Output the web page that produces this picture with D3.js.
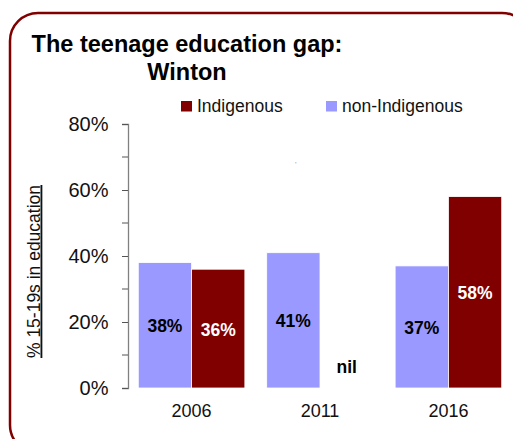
<!DOCTYPE html>
<html>
<head>
<meta charset="utf-8">
<script src="https://cdn.jsdelivr.net/npm/d3@7"></script>
<style>
  html, body { margin: 0; padding: 0; background: #fff; }
  svg { display: block; font-family: "Liberation Sans", Arial, sans-serif; }
</style>
</head>
<body>
<svg id="chart" width="513" height="439"></svg>
<script>
// Census years and share of 15-19 year olds in education
const years = ["2006", "2011", "2016"];
const seriesNames = ["non-Indigenous", "Indigenous"];
const nonIndigenous = [0.38, 0.41, 0.37];
const indigenous = [0.36, null, 0.58];
const yTicks = [0, 0.2, 0.4, 0.6, 0.8];
const yMinorTicks = [0.1, 0.3, 0.5, 0.7];
const nilLabel = "nil";

const colors = { "non-Indigenous": "#9999ff", "Indigenous": "#800000" };
const labelColors = { "non-Indigenous": "#000", "Indigenous": "#fff" };

const svg = d3.select("#chart");

// Rounded frame
svg.append("rect")
  .attr("x", 10).attr("y", 13)
  .attr("width", 520).attr("height", 440)
  .attr("rx", 28).attr("ry", 28)
  .attr("fill", "none")
  .attr("stroke", "#800000")
  .attr("stroke-width", 2.5);

// Title
const title = svg.append("text")
  .attr("text-anchor", "middle")
  .attr("font-weight", "bold")
  .attr("font-size", 23.5)
  .attr("fill", "#000");
title.append("tspan").attr("x", 187).attr("y", 51.5).text("The teenage education gap:");
title.append("tspan").attr("x", 187).attr("y", 80).text("Winton");

// Scales
const y = d3.scaleLinear().domain([0, 0.8]).range([388, 124]);
const x0 = d3.scaleBand().domain(years).range([128, 512]).paddingInner(0.17).paddingOuter(0.08);
const x1 = d3.scaleBand().domain(seriesNames).range([0, x0.bandwidth()]);

// Y axis
const yAxis = d3.axisLeft(y)
  .tickValues(yTicks)
  .tickFormat(d3.format(".0%"))
  .tickSize(6)
  .tickPadding(13.5);
const gy = svg.append("g").attr("transform", "translate(128,0)").call(yAxis);
gy.select(".domain").attr("stroke", "#808080").attr("stroke-width", 1.3);
gy.selectAll(".tick line").attr("stroke", "#555");
gy.selectAll(".tick text")
  .attr("font-size", 20)
  .attr("font-family", "Liberation Sans, Arial, sans-serif")
  .attr("fill", "#111");
gy.selectAll(".minor")
  .data(yMinorTicks)
  .enter().append("line")
  .attr("class", "minor")
  .attr("x1", -6).attr("x2", 0)
  .attr("y1", d => y(d)).attr("y2", d => y(d))
  .attr("stroke", "#555");

// Y axis title
svg.append("text")
  .attr("transform", `translate(39.5,${271.5}) rotate(-90)`)
  .attr("text-anchor", "middle")
  .attr("font-size", 18.5)
  .attr("textLength", 173)
  .attr("lengthAdjust", "spacingAndGlyphs")
  .attr("text-decoration", "underline")
  .attr("fill", "#111")
  .text("% 15-19s in education");

// X axis labels
const xAxis = d3.axisBottom(x0).tickSize(0).tickPadding(0);
const gx = svg.append("g").attr("transform", "translate(0,388)").call(xAxis);
gx.select(".domain").remove();
gx.selectAll(".tick text")
  .attr("dy", null)
  .attr("y", 28.5)
  .attr("font-size", 18)
  .attr("font-family", "Liberation Sans, Arial, sans-serif")
  .attr("fill", "#111");

// Bars
const rows = years.map((yr, i) => ({
  year: yr,
  values: [
    { key: "non-Indigenous", value: nonIndigenous[i] },
    { key: "Indigenous", value: indigenous[i] }
  ]
}));

const groups = svg.selectAll(".group")
  .data(rows)
  .enter().append("g")
  .attr("class", "group")
  .attr("transform", d => `translate(${x0(d.year)},0)`);

groups.selectAll("rect")
  .data(d => d.values.filter(v => v.value != null))
  .enter().append("rect")
  .attr("x", d => x1(d.key))
  .attr("y", d => y(d.value))
  .attr("width", x1.bandwidth())
  .attr("height", d => y(0) - y(d.value))
  .attr("fill", d => colors[d.key])
  .attr("stroke", "#fff")
  .attr("stroke-width", 0.8);

// Value labels
groups.selectAll(".val")
  .data(d => d.values)
  .enter().append("text")
  .attr("class", "val")
  .attr("text-anchor", "middle")
  .attr("font-weight", "bold")
  .attr("font-size", 17.5)
  .attr("x", d => x1(d.key) + x1.bandwidth() / 2)
  .attr("y", d => d.value != null ? (y(d.value) + y(0)) / 2 + 7 : 373)
  .attr("fill", d => d.value != null ? labelColors[d.key] : "#000")
  .text(d => d.value != null ? d3.format(".0%")(d.value) : nilLabel);

// Legend
const legendItems = [
  { key: "Indigenous", x: 181, tx: 197 },
  { key: "non-Indigenous", x: 326, tx: 342 }
];
const lg = svg.selectAll(".legend")
  .data(legendItems)
  .enter().append("g")
  .attr("class", "legend");
lg.append("rect")
  .attr("x", d => d.x).attr("y", 101)
  .attr("width", 11).attr("height", 10.5)
  .attr("fill", d => colors[d.key]);
lg.append("text")
  .attr("x", d => d.tx).attr("y", 111.5)
  .attr("font-size", 17.5)
  .attr("fill", "#111")
  .text(d => d.key);

// Small stray mark in the plot area
svg.append("text")
  .attr("x", 295).attr("y", 167)
  .attr("font-size", 8)
  .attr("fill", "#999")
  .text("'");
</script>
</body>
</html>
